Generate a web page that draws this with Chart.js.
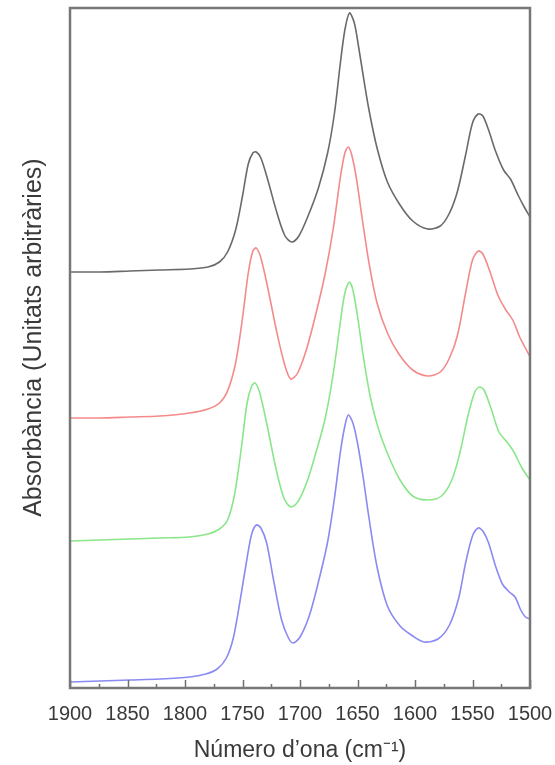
<!DOCTYPE html>
<html>
<head>
<meta charset="utf-8">
<script src="https://cdn.jsdelivr.net/npm/chart.js@4/dist/chart.umd.min.js"></script>
<style>
html,body{margin:0;padding:0;background:#fff;}
canvas{display:block;}
</style>
</head>
<body>
<canvas id="c" width="555" height="765"></canvas>
<script>
// ---- data (wavenumber in cm^-1, absorbance in arbitrary units, curves offset vertically) ----
const xTickValues = [1900, 1850, 1800, 1750, 1700, 1650, 1600, 1550, 1500];
const xMinorTickValues = [1875, 1825, 1775, 1725, 1675, 1625, 1575, 1525];

const blackWn  = [1900,1874,1848,1822,1796,1780,1770,1763,1756,1750,1745,1741,1738,1734,1728,1720,1713,1707,1701,1693,1684,1676,1670,1665,1661,1657,1653,1650,1645,1640,1633,1624,1613,1602,1589,1578,1570,1563,1556,1550,1545,1541,1536,1530,1523,1517,1510,1505,1500];
const blackAbs = [416,416,417,418,419,421,426,436,458,492,524,535,536,530,508,475,452,446,452,472,500,535,575,624,658,675,666,648,612,578,540,506,483,467,459,462,475,497,533,565,574,572,558,537,518,509,492,481,471];

const redWn  = [1900,1874,1848,1822,1796,1780,1770,1763,1756,1750,1745,1741,1738,1734,1728,1720,1713,1708,1702,1694,1686,1678,1671,1665,1661,1658,1655,1651,1646,1640,1633,1624,1614,1602,1589,1578,1570,1563,1556,1550,1545,1541,1535,1528,1521,1515,1509,1504,1500];
const redAbs = [270,270,271,272,275,279,285,297,325,370,415,437,440,430,400,355,322,309,315,340,375,415,460,510,535,541,533,510,470,425,385,355,334,318,312,316,330,353,395,428,437,434,417,393,378,368,351,340,331];

const greenWn  = [1900,1874,1848,1822,1796,1780,1770,1763,1757,1751,1746,1742,1739,1735,1729,1721,1714,1708,1702,1694,1686,1678,1671,1665,1661,1657,1654,1650,1645,1639,1632,1623,1613,1602,1589,1577,1568,1561,1554,1548,1544,1540,1534,1527,1520,1514,1507,1500];
const greenAbs = [147,148,149,150,151,154,159,168,193,240,285,302,305,295,265,220,190,181,186,206,236,270,315,365,395,406,398,372,332,292,260,232,208,192,188,192,208,235,272,296,301,298,280,256,246,236,220,208];

const blueWn  = [1900,1874,1848,1822,1796,1782,1772,1764,1758,1752,1746,1742,1738,1734,1729,1723,1716,1710,1706,1700,1692,1684,1676,1670,1665,1661,1658,1654,1650,1645,1640,1633,1624,1613,1602,1592,1580,1570,1562,1556,1550,1545,1541,1536,1530,1524,1518,1513,1508,1504,1500];
const blueAbs = [6,7,8,9,11,14,19,30,50,88,130,154,163,160,145,108,68,50,45,51,72,106,146,190,235,262,273,265,245,210,170,121,82,62,52,46,49,63,90,125,152,160,157,145,122,104,96,91,78,71,69];

const seriesColors = ['#6a6a6a', '#f48a8a', '#8ae68a', '#8a8af2'];

function toPoints(xs, ys) { return xs.map((x, i) => ({x: x, y: ys[i]})); }

const frameAndTicks = {
  id: 'frameAndTicks',
  afterDraw(chart) {
    const {ctx, chartArea: a, scales: {x}} = chart;
    ctx.save();
    ctx.strokeStyle = '#6e6e6e';
    ctx.lineWidth = 1.5;
    xTickValues.forEach(v => {
      const px = Math.round(x.getPixelForValue(v)) + 0.5;
      ctx.beginPath(); ctx.moveTo(px, a.bottom); ctx.lineTo(px, a.bottom - 8); ctx.stroke();
    });
    xMinorTickValues.forEach(v => {
      const px = Math.round(x.getPixelForValue(v)) + 0.5;
      ctx.beginPath(); ctx.moveTo(px, a.bottom); ctx.lineTo(px, a.bottom - 4); ctx.stroke();
    });
    ctx.lineWidth = 2.5;
    ctx.strokeStyle = '#777';
    ctx.strokeRect(a.left, a.top, a.right - a.left, a.bottom - a.top);
    ctx.restore();
  }
};

new Chart(document.getElementById('c'), {
  type: 'line',
  data: {
    datasets: [
      {data: toPoints(blackWn, blackAbs), borderColor: seriesColors[0]},
      {data: toPoints(redWn, redAbs), borderColor: seriesColors[1]},
      {data: toPoints(greenWn, greenAbs), borderColor: seriesColors[2]},
      {data: toPoints(blueWn, blueAbs), borderColor: seriesColors[3]}
    ].map(d => Object.assign(d, {borderWidth: 1.6, pointRadius: 0, fill: false, tension: 0.3}))
  },
  options: {
    responsive: false,
    animation: false,
    devicePixelRatio: 1,
    layout: {padding: {left: 0, right: 25, top: 8, bottom: 0}},
    plugins: {legend: {display: false}, tooltip: {enabled: false}},
    scales: {
      x: {
        type: 'linear',
        reverse: true,
        min: 1500,
        max: 1900,
        afterBuildTicks: s => { s.ticks = xTickValues.map(v => ({value: v})); },
        afterFit: s => { s.height = 77; s.paddingLeft = 0; s.paddingRight = 0; },
        grid: {display: false, drawTicks: false},
        border: {display: false},
        ticks: {
          padding: 14,
          color: '#3a3a3a',
          font: {family: 'Liberation Sans, Arial, sans-serif', size: 20},
          callback: v => String(v),
          maxRotation: 0,
          autoSkip: false
        },
        title: {
          display: true,
          text: 'Número d\u2019ona (cm\u207B\u00B9)',
          color: '#3a3a3a',
          font: {family: 'Liberation Sans, Arial, sans-serif', size: 23},
          padding: {top: 0, bottom: 1}
        }
      },
      y: {
        min: 0,
        max: 680,
        afterFit: s => { s.width = 70; },
        grid: {display: false, drawTicks: false},
        border: {display: false},
        ticks: {display: false},
        title: {
          display: true,
          text: '\u00A0\u00A0\u00A0Absorbància (Unitats arbitràries)',
          color: '#3a3a3a',
          font: {family: 'Liberation Sans, Arial, sans-serif', size: 25},
          padding: {top: 19, bottom: 0}
        }
      }
    }
  },
  plugins: [frameAndTicks]
});
</script>
</body>
</html>
